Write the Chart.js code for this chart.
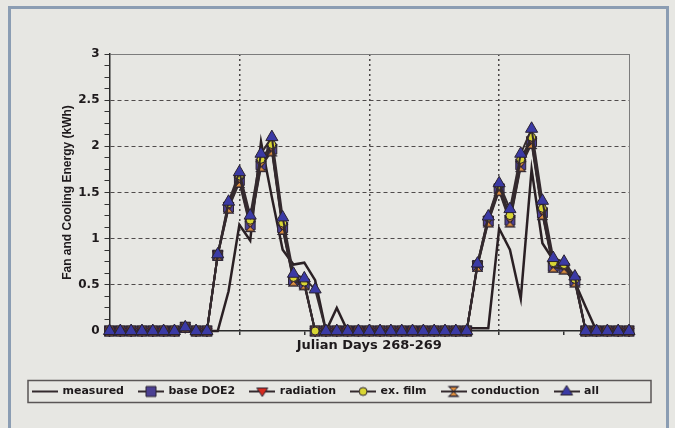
<!DOCTYPE html>
<html><head><meta charset="utf-8">
<script src="https://cdn.jsdelivr.net/npm/chart.js@4/dist/chart.umd.min.js"></script>
<style>
html,body{margin:0;padding:0;background:#e7e7e3;overflow:hidden;}
#wrap{position:relative;width:675px;height:428px;}
#frame{position:absolute;left:8px;top:6px;width:655px;height:440px;border:3px solid #8b9db3;pointer-events:none;}
canvas{display:block;}
</style></head><body>
<div id="wrap"><canvas id="c" width="675" height="428"></canvas><div id="frame"></div></div>
<script>
const hours = [0,1,2,3,4,5,6,7,8,9,10,11,12,13,14,15,16,17,18,19,20,21,22,23,24,25,26,27,28,29,30,31,32,33,34,35,36,37,38,39,40,41,42,43,44,45,46,47,48];
const measured   = [0,0,0,0,0,0,0,0,0,0,0,0.43,1.15,0.98,2.05,1.45,0.88,0.72,0.74,0.55,0,0.25,0,0,0,0,0,0,0,0,0,0,0,0.03,0.03,0.03,1.11,0.88,0.35,1.75,0.95,0.77,0.68,0.53,0.26,0,0,0,0];
const baseDOE2   = [0,0,0,0,0,0,0,0.04,0,0,0.82,1.34,1.63,1.15,1.80,1.97,1.12,0.55,0.51,0,0,0,0,0,0,0,0,0,0,0,0,0,0,0,0.71,1.19,1.54,1.20,1.80,2.05,1.28,0.70,0.68,0.54,0,0,0,0,0];
const radiation  = [0,0,0,0,0,0,0,0.04,0,0,0.83,1.36,1.65,1.18,1.83,1.99,1.14,0.56,0.52,0,0,0,0,0,0,0,0,0,0,0,0,0,0,0,0.72,1.21,1.56,1.22,1.83,2.07,1.30,0.72,0.70,0.55,0,0,0,0,0];
const exFilm     = [0,0,0,0,0,0,0,0.04,0,0,0.83,1.38,1.68,1.20,1.86,2.02,1.17,0.58,0.53,0,0,0,0,0,0,0,0,0,0,0,0,0,0,0,0.73,1.23,1.58,1.25,1.86,2.10,1.33,0.74,0.72,0.56,0,0,0,0,0];
const conduction = [0,0,0,0,0,0,0,0.04,0,0,0.82,1.33,1.61,1.13,1.78,1.95,1.10,0.54,0.50,0,0,0,0,0,0,0,0,0,0,0,0,0,0,0,0.70,1.18,1.52,1.18,1.78,2.03,1.26,0.69,0.67,0.53,0,0,0,0,0];
const allEffects = [0,0,0,0,0,0,0,0.04,0,0,0.83,1.40,1.72,1.25,1.92,2.10,1.23,0.62,0.57,0.45,0,0,0,0,0,0,0,0,0,0,0,0,0,0,0.73,1.24,1.60,1.32,1.92,2.19,1.41,0.79,0.75,0.59,0,0,0,0,0];
const seriesNames = ['measured','base DOE2','radiation','ex. film','conduction','all'];
const yTickValues = [0,0.5,1,1.5,2,2.5,3];

const INK = '#1e1a1c';
const LINE = '#342a2e';
const STROKE = '#2a2230';

function drawMarker(g, kind, cx, cy) {
  g.lineWidth = 1;
  g.strokeStyle = STROKE;
  g.beginPath();
  if (kind === 'rect') {
    g.fillStyle = '#4b3f92';
    g.rect(cx - 5, cy - 5, 10, 10);
  } else if (kind === 'triDown') {
    g.fillStyle = '#d62b1f';
    g.moveTo(cx - 5.5, cy - 3.5); g.lineTo(cx + 5.5, cy - 3.5); g.lineTo(cx, cy + 5); g.closePath();
  } else if (kind === 'circle') {
    g.fillStyle = '#d9d634';
    g.arc(cx, cy, 4, 0, Math.PI * 2);
  } else if (kind === 'hourglass') {
    g.fillStyle = '#df8f3e';
    g.moveTo(cx - 4.5, cy - 4.5); g.lineTo(cx + 4.5, cy - 4.5); g.lineTo(cx - 4.5, cy + 4.5); g.lineTo(cx + 4.5, cy + 4.5); g.closePath();
  } else if (kind === 'triUp') {
    g.fillStyle = '#3b3aa5';
    g.moveTo(cx - 6, cy + 3.5); g.lineTo(cx + 6, cy + 3.5); g.lineTo(cx, cy - 6); g.closePath();
  }
  g.fill(); g.stroke();
  if (kind === 'hourglass') {
    g.beginPath(); g.moveTo(cx - 5.5, cy - 5); g.lineTo(cx + 5.5, cy - 5); g.moveTo(cx - 5.5, cy + 5); g.lineTo(cx + 5.5, cy + 5); g.stroke();
  }
}
function markerCanvas(kind) {
  const c = document.createElement('canvas'); c.width = 13; c.height = 13;
  drawMarker(c.getContext('2d'), kind, 6.5, 6.5); return c;
}
function legendIcon(kind) {
  const c = document.createElement('canvas'); c.width = 26; c.height = 14;
  const g = c.getContext('2d');
  g.strokeStyle = LINE; g.lineWidth = 2;
  g.beginPath(); g.moveTo(0, 7); g.lineTo(26, 7); g.stroke();
  if (kind) drawMarker(g, kind, 13, 7);
  return c;
}
const legendKinds = [null, 'rect', 'triDown', 'circle', 'hourglass', 'triUp'];
const legendIcons = legendKinds.map(legendIcon);

const legendBox = {
  id: 'legendBox',
  afterDraw(chart) {
    const lg = chart.legend; if (!lg || !lg.legendHitBoxes.length) return;
    const hb = lg.legendHitBoxes[0];
    const cy = hb.top + hb.height / 2;
    const g = chart.ctx; g.save();
    g.strokeStyle = '#5a5656'; g.lineWidth = 1.5;
    g.strokeRect(hb.left - 5, cy - 11, chart.width - 24 - (hb.left - 5), 22);
    g.restore();
  }
};

function ds(label, data, extra) {
  return Object.assign({label, data, borderColor: LINE, borderWidth: 2, tension: 0, clip: false,
    pointBorderColor: STROKE, pointBorderWidth: 1, pointHoverRadius: 0}, extra);
}

new Chart(document.getElementById('c'), {
  type: 'line',
  data: {
    labels: hours,
    datasets: [
      ds(seriesNames[0], measured, {borderColor: '#2a2024', borderWidth: 2.5, pointRadius: 0, order: 6}),
      ds(seriesNames[1], baseDOE2, {pointStyle: 'rect', pointRadius: 7, pointBackgroundColor: '#4b3f92', order: 5}),
      ds(seriesNames[2], radiation, {pointStyle: 'triangle', rotation: 180, pointRadius: 6, pointBackgroundColor: '#d62b1f', order: 4}),
      ds(seriesNames[3], exFilm, {pointStyle: 'circle', pointRadius: 4, pointBackgroundColor: '#d9d634', order: 2}),
      ds(seriesNames[4], conduction, {pointStyle: markerCanvas('hourglass'), order: 3}),
      ds(seriesNames[5], allEffects, {pointStyle: 'triangle', pointRadius: 7, pointBackgroundColor: '#3b3aa5', order: 1})
    ]
  },
  options: {
    responsive: false,
    devicePixelRatio: 1,
    animation: false,
    events: [],
    layout: {padding: {left: 18, right: 46, top: 54, bottom: 21}},
    plugins: {
      tooltip: {enabled: false},
      legend: {
        position: 'bottom',
        align: 'start',
        labels: {
          usePointStyle: true,
          pointStyleWidth: 24,
          padding: 15,
          color: INK,
          font: {family: 'DejaVu Sans', weight: 'bold', size: 11},
          sort: (a, b) => a.datasetIndex - b.datasetIndex,
          generateLabels(chart) {
            const items = Chart.defaults.plugins.legend.labels.generateLabels(chart);
            items.forEach(it => { it.pointStyle = legendIcons[it.datasetIndex]; it.rotation = 0; });
            return items;
          }
        }
      }
    },
    scales: {
      x: {
        type: 'category',
        offset: false,
        afterFit(s) { s.height = 40; },
        ticks: {display: false, autoSkip: false},
        grid: {
          color: ctx => (ctx.index === 12 || ctx.index === 24 || ctx.index === 36) ? '#4a4646' : (ctx.index === 48 ? '#7c7c7c' : 'transparent'),
          lineWidth: ctx => ctx.index === 48 ? 1 : 1.5,
          tickLength: 4,
          tickColor: ctx => (ctx.index % 6 === 0 && ctx.index > 0 && ctx.index < 48) ? '#333' : 'transparent'
        },
        border: {color: '#2b2b2b', width: 1.5, dash: ctx => (ctx.index === 48 ? [] : [2, 3])},
        title: {display: true, text: 'Julian Days 268-269', color: INK,
          font: {family: 'DejaVu Sans', weight: 'bold', size: 13}, padding: {top: 0, bottom: 18}}
      },
      y: {
        min: 0, max: 3,
        afterFit(s) { s.width = 91.5; },
        ticks: {
          stepSize: 0.125, autoSkip: false, padding: 5, color: INK,
          font: {family: 'DejaVu Sans', weight: 'bold', size: 12},
          callback: v => yTickValues.includes(v) ? String(v) : ''
        },
        grid: {
          color: ctx => {
            const v = ctx.tick.value;
            if (v === 0) return 'transparent';
            if (v === 3) return '#7c7c7c';
            return yTickValues.includes(v) ? '#4f4b4b' : 'transparent';
          },
          lineWidth: 1,
          tickLength: 5,
          tickColor: '#333'
        },
        border: {color: '#2b2b2b', width: 1.5, dash: ctx => (ctx.tick && ctx.tick.value === 3 ? [] : [4, 3])},
        title: {display: true, text: 'Fan and Cooling Energy (kWh)', color: INK,
          font: {family: 'Liberation Sans', weight: 'bold', size: 12}, padding: {top: 42, bottom: 0}}
      }
    }
  },
  plugins: [legendBox]
});
</script>
</body></html>
